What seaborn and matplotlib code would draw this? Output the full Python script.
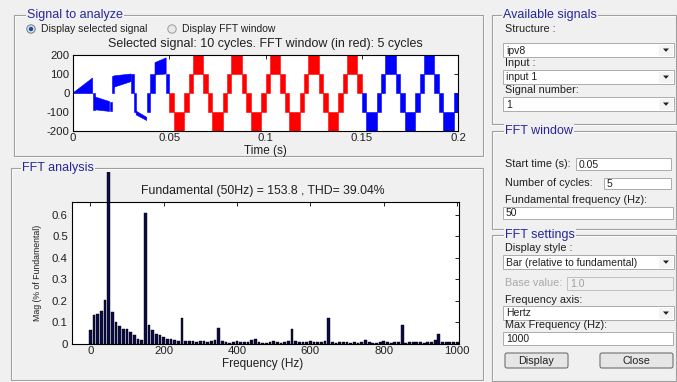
import numpy as np
import matplotlib
matplotlib.use('Agg')
import matplotlib.pyplot as plt
import matplotlib.patches as mpatches
from matplotlib.transforms import Bbox, TransformedBbox
import seaborn as sns

# ---- data ----
# FFT spectrum, 10 Hz resolution (5 cycles of 50 Hz)
fft_freq = list(range(0, 1001, 10))
fft_mag = [0.065, 0.135, 0.14, 0.155, 0.205, 1.0, 0.15, 0.10, 0.082, 0.07,
           0.068, 0.055, 0.042, 0.025, 0.02, 0.61, 0.09, 0.063, 0.048, 0.042,
           0.033, 0.025, 0.023, 0.02, 0.015, 0.12, 0.015, 0.014, 0.013, 0.008,
           0.012, 0.012, 0.01, 0.012, 0.018, 0.075, 0.012, 0.007, 0.006, 0.007,
           0.013, 0.01, 0.008, 0.01, 0.018, 0.025, 0.008, 0.005, 0.006, 0.01,
           0.013, 0.008, 0.006, 0.008, 0.015, 0.072, 0.014, 0.01, 0.007, 0.01,
           0.012, 0.01, 0.01, 0.01, 0.014, 0.12, 0.008, 0.005, 0.007, 0.008,
           0.008, 0.006, 0.007, 0.006, 0.007, 0.017, 0.008, 0.006, 0.005, 0.009,
           0.012, 0.008, 0.006, 0.008, 0.01, 0.088, 0.006, 0.007, 0.009, 0.01,
           0.008, 0.006, 0.007, 0.008, 0.02, 0.047, 0.01, 0.009, 0.008, 0.009,
           0.01]

# start-up transient (blue), each piece is a band lo..hi between t0 and t1
tr_t0 = [0.0, 0.0102, 0.0112, 0.0190, 0.0202, 0.0212, 0.0302, 0.0315, 0.0328, 0.0383, 0.0398, 0.0426]
tr_t1 = [0.0102, 0.0112, 0.0190, 0.0202, 0.0212, 0.0302, 0.0315, 0.0328, 0.0383, 0.0398, 0.0426, 0.0484]
tr_lo0 = [-3, -90, -88, -97, 0, 30, 0, -100, -115, -100, 0, 95]
tr_lo1 = [-3, -90, -97, -97, 0, 60, 0, -100, -145, -100, 0, 100]
tr_hi0 = [0, 0, -20, -45, 88, 90, 100, 0, -95, 0, 100, 160]
tr_hi1 = [79, 0, -45, -45, 88, 100, 100, 0, -128, 0, 100, 185]

# steady multilevel staircase: one 20 ms cycle of bands (phase start, lower level)
step_phase = [0.0, 0.00225, 0.00775, 0.0100, 0.01225, 0.01775]
step_level = [0, 100, 0, -100, -200, -100]
cycle_starts = [0.04, 0.06, 0.08, 0.10, 0.12, 0.14, 0.16, 0.18]
steady_from = 0.0484
fft_window = (0.05, 0.15)

sig_ticks = [0, 0.05, 0.1, 0.15, 0.2]
sig_ticklabels = ['0', '0.05', '0.1', '0.15', '0.2']

W, H = 677, 382
BG = '#f0f0f0'
NAVY = '#26269a'

sns.set_theme(style='white')
plt.rcParams['font.family'] = ['Liberation Sans', 'DejaVu Sans']
plt.rcParams['axes.unicode_minus'] = False

fig = plt.figure(figsize=(W / 100, H / 100), dpi=100, facecolor=BG)

# background / GUI layer in pixel coordinates
bg = fig.add_axes([0, 0, 1, 1], zorder=0)
bg.set_xlim(0, W)
bg.set_ylim(H, 0)
bg.axis('off')


def panel(x0, y0, x1, y1, title, tx):
    bg.add_patch(mpatches.Rectangle((x0 + 1, y0 + 1), x1 - x0, y1 - y0, fill=False, ec='white', lw=0.8))
    bg.add_patch(mpatches.Rectangle((x0, y0), x1 - x0, y1 - y0, fill=False, ec='#a0a0a0', lw=0.8))
    bg.text(tx, y0, title, color=NAVY, fontsize=9, va='center', ha='left',
            bbox=dict(fc=BG, ec='none', pad=1.0))


def label(x, y, s, color='#202020', size=7.8):
    bg.text(x, y, s, fontsize=size, va='center', ha='left', color=color)


def editbox(x0, y0, x1, y1, s, fc='white', tc='#202020', ec='#ababab'):
    bg.add_patch(mpatches.Rectangle((x0, y0), x1 - x0, y1 - y0, fc=fc, ec=ec, lw=0.7))
    bg.text(x0 + 3, (y0 + y1) / 2 + 0.5, s, fontsize=7.5, va='center', ha='left', color=tc)


def dropdown(x0, y0, x1, y1, s):
    editbox(x0, y0, x1, y1, s)
    bg.add_patch(mpatches.Rectangle((x1 - 15, y0 + 1.5), 13.5, y1 - y0 - 3, fc='#f4f4f4', ec='none'))
    cx, cy = x1 - 8, (y0 + y1) / 2
    bg.add_patch(mpatches.Polygon([[cx - 3, cy - 1.5], [cx + 3, cy - 1.5], [cx, cy + 1.8]], fc='#202020', ec='none'))


def button(x0, y0, x1, y1, s):
    bg.add_patch(mpatches.FancyBboxPatch((x0, y0), x1 - x0, y1 - y0, boxstyle='round,pad=0,rounding_size=2',
                                         fc='#e6e6e6', ec='#707070', lw=0.8))
    bg.text((x0 + x1) / 2, (y0 + y1) / 2 + 0.5, s, fontsize=7.8, va='center', ha='center', color='#202020')


# left panels
panel(14, 15, 483, 156, 'Signal to analyze', 27)
panel(11, 168, 483, 380, 'FFT analysis', 22)

# radio buttons
bg.add_patch(mpatches.Circle((31, 29), 4.2, fc='#d8e6f2', ec='#6a7a8a', lw=0.7))
bg.add_patch(mpatches.Circle((31, 29), 2.2, fc='#1d4f8c', ec='none'))
bg.add_patch(mpatches.Circle((172, 29), 4.2, fc='#e8e8e8', ec='#9a9a9a', lw=0.7))
label(41, 29, 'Display selected signal', size=7.5)
label(182, 29, 'Display FFT window', size=7.5)

bg.text(265, 44, 'Selected signal: 10 cycles. FFT window (in red): 5 cycles', fontsize=9, ha='center', va='center', color='#202020')
bg.text(265, 151, 'Time (s)', fontsize=8.5, ha='center', va='center', color='#202020')
bg.text(263, 191, 'Fundamental (50Hz) = 153.8 , THD= 39.04%', fontsize=8.8, ha='center', va='center', color='#202020')
bg.text(263, 364, 'Frequency (Hz)', fontsize=8.5, ha='center', va='center', color='#202020')
bg.text(37, 273, 'Mag (% of Fundamental)', fontsize=6.3, ha='center', va='center', rotation=90, color='#202020')

# right panels
panel(492, 15, 676, 124, 'Available signals', 503)
label(505, 29, 'Structure :')
dropdown(503, 43, 674, 57, 'ipv8')
label(505, 63, 'Input :')
dropdown(503, 70, 674, 84, 'input 1')
label(505, 90, 'Signal number:')
dropdown(503, 97, 674, 111, '1')

panel(492, 131, 676, 229, 'FFT window', 505)
label(505, 164, 'Start time (s):')
editbox(576, 158, 671, 170, '0.05')
label(505, 183, 'Number of cycles:')
editbox(604, 178, 671, 189, '5')
label(505, 200, 'Fundamental frequency (Hz):')
editbox(503, 207, 673, 219, '50')

panel(492, 235, 676, 381, 'FFT settings', 505)
label(505, 248, 'Display style :')
dropdown(503, 255, 674, 269, 'Bar (relative to fundamental)')
label(505, 283, 'Base value:', color='#a8a8a8')
editbox(567, 277, 673, 290, '1.0', fc=BG, tc='#a0a0a0', ec='#c0c0c0')
label(505, 300, 'Frequency axis:')
dropdown(503, 306, 674, 320, 'Hertz')
label(505, 325, 'Max Frequency (Hz):')
editbox(503, 332, 673, 345, '1000')
button(505, 353, 568, 368, 'Display')
button(600, 353, 673, 368, 'Close')


def px_axes(x0, y0, x1, y1):
    return fig.add_axes([x0 / W, (H - y1) / H, (x1 - x0) / W, (y1 - y0) / H], zorder=1)


def style_axes(ax):
    ax.set_facecolor('white')
    for sp in ax.spines.values():
        sp.set_color('black')
        sp.set_linewidth(0.8)
        sp.set_visible(True)
    ax.tick_params(direction='in', top=True, right=True, length=3, width=0.6,
                   labelsize=8.2, pad=1.5, colors='black', labelcolor='#202020')
    ax.set_xlabel('')
    ax.set_ylabel('')


# ---- signal plot ----
ax1 = px_axes(73, 55, 458, 131)
BLUE, RED = '#0000ff', '#ff0000'


def band_color(t0, t1):
    mid = (t0 + t1) / 2
    return RED if fft_window[0] <= mid < fft_window[1] else BLUE


for t0, t1, l0, l1, h0, h1 in zip(tr_t0, tr_t1, tr_lo0, tr_lo1, tr_hi0, tr_hi1):
    ax1.fill([t0, t1, t1, t0], [l0, l1, h1, h0], color=BLUE, lw=0.4)

for cs in cycle_starts:
    ends = step_phase[1:] + [0.02]
    for ph0, ph1, lev in zip(step_phase, ends, step_level):
        t0, t1 = max(cs + ph0, steady_from), min(cs + ph1, 0.2)
        if t1 <= t0:
            continue
        c = band_color(t0, t1)
        ax1.fill([t0, t1, t1, t0], [lev, lev, lev + 100, lev + 100], color=c, lw=0.4)

ax1.set_xlim(0, 0.2)
ax1.set_ylim(-200, 200)
ax1.set_xticks(sig_ticks)
ax1.set_xticklabels(sig_ticklabels)
ax1.set_yticks([-200, -100, 0, 100, 200])
ax1.set_yticklabels(['-200', '-100', '0', '100', '200'])
style_axes(ax1)
ax1.tick_params(axis='y', pad=2.5)

# ---- FFT bar plot ----
ax2 = px_axes(72, 202, 459, 344)
sns.barplot(x=fft_freq, y=fft_mag, native_scale=True, color='#0b0b48', saturation=1,
            width=0.75, edgecolor='black', linewidth=0.3, ax=ax2)
ax2.set_xlim(-50, 1005)
ax2.set_ylim(0, 0.66)
ax2.set_xticks([0, 200, 400, 600, 800, 1000])
ax2.set_xticklabels(['0', '200', '400', '600', '800', '1000'])
ax2.set_yticks([0, 0.1, 0.2, 0.3, 0.4, 0.5, 0.6])
ax2.set_yticklabels(['0', '0.1', '0.2', '0.3', '0.4', '0.5', '0.6'])
style_axes(ax2)
ax2.tick_params(axis='y', pad=3)

# the fundamental bar runs out of the axes up to the panel edge
clip = TransformedBbox(Bbox.from_extents(0, 0, 1, (H - 172) / H), fig.transFigure)
for p in ax2.patches:
    if abs(p.get_x() + p.get_width() / 2 - 50) < 1:
        p.set_clip_on(True)
        p.set_clip_box(clip)
        p.set_clip_path(None)

fig.savefig('out.png', dpi=100, facecolor=BG)
